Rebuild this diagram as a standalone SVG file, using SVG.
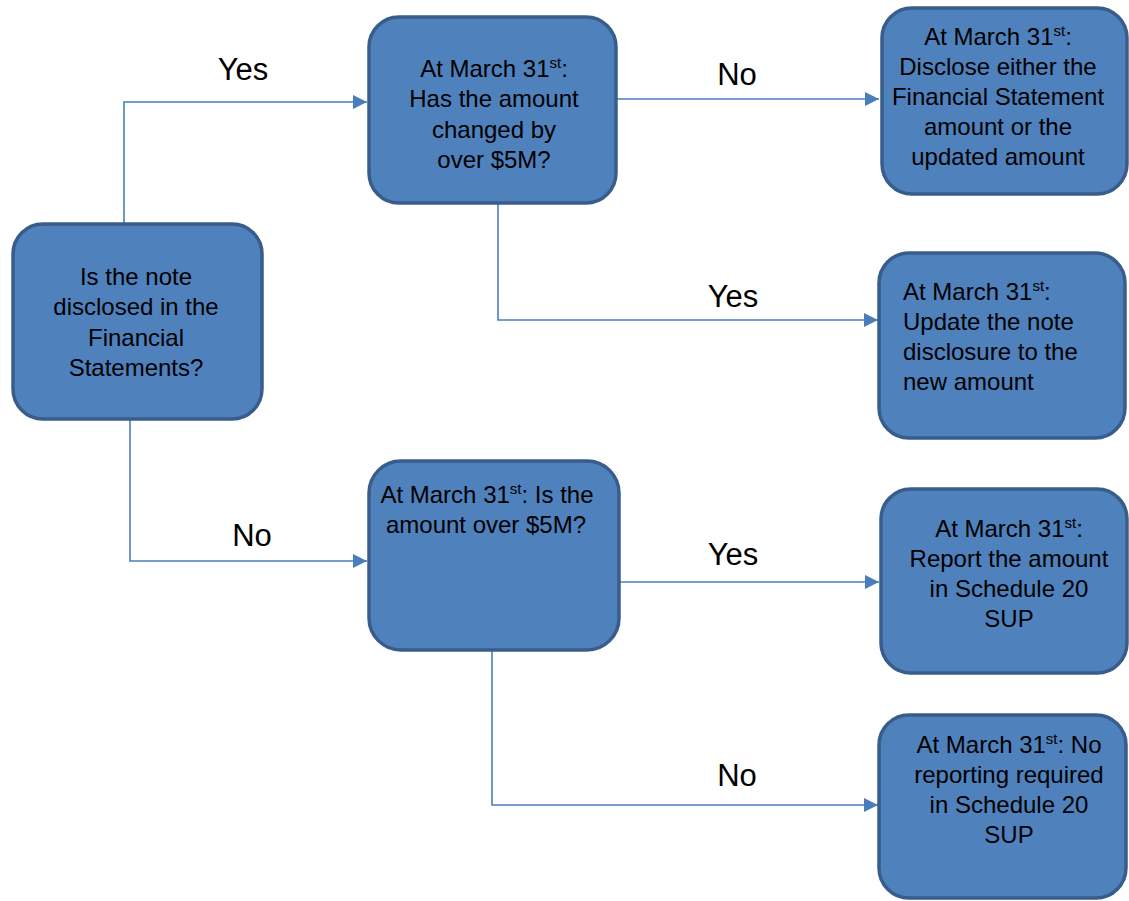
<svg xmlns="http://www.w3.org/2000/svg" width="1129" height="901" viewBox="0 0 1129 901">
<defs>
<style>
.box{fill:#4f81bd;stroke:#385d8a;stroke-width:3.5}
.t{font-family:"Liberation Sans",Arial,sans-serif;font-size:24px;fill:#000}
.c{text-anchor:middle}
.lbl{font-family:"Liberation Sans",Arial,sans-serif;font-size:31px;fill:#000;text-anchor:middle}
.con{fill:none;stroke:#4a7ebb;stroke-width:1.6}
.sup{font-size:15px}
</style>
<marker id="arr" viewBox="0 0 10 10" refX="10" refY="5" markerWidth="14" markerHeight="14" markerUnits="userSpaceOnUse" orient="auto">
<path d="M0,0 L10,5 L0,10 z" fill="#4a7ebb"/>
</marker>
</defs>
<rect width="1129" height="901" fill="#ffffff"/>
<g id="connectors">
<path class="con" d="M124,223 V102 H367" marker-end="url(#arr)"/>
<path class="con" d="M130,420 V561 H367" marker-end="url(#arr)"/>
<path class="con" d="M617,99 H879" marker-end="url(#arr)"/>
<path class="con" d="M498,203 V320 H878" marker-end="url(#arr)"/>
<path class="con" d="M620,582 H879" marker-end="url(#arr)"/>
<path class="con" d="M492,650 V805 H878" marker-end="url(#arr)"/>
</g>
<g id="labels">
<text class="lbl" x="243" y="80">Yes</text>
<text class="lbl" x="737" y="85">No</text>
<text class="lbl" x="733" y="307">Yes</text>
<text class="lbl" x="252" y="546">No</text>
<text class="lbl" x="733" y="565">Yes</text>
<text class="lbl" x="737" y="786">No</text>
</g>
<g id="n1">
<rect class="box" x="13" y="224" width="249" height="195" rx="30"/>
<text class="t c" x="136" y="285">Is the note</text>
<text class="t c" x="136" y="315">disclosed in the</text>
<text class="t c" x="136" y="346">Financial</text>
<text class="t c" x="136" y="376">Statements?</text>
</g>
<g id="n2">
<rect class="box" x="369" y="17" width="247" height="186" rx="30"/>
<text class="t c" x="494" y="77">At March 31<tspan class="sup" dy="-9">st</tspan><tspan dy="9">:</tspan></text>
<text class="t c" x="494" y="107">Has the amount</text>
<text class="t c" x="494" y="138">changed by</text>
<text class="t c" x="494" y="168">over $5M?</text>
</g>
<g id="n3">
<rect class="box" x="882" y="8" width="245" height="186" rx="30"/>
<text class="t c" x="998" y="45">At March 31<tspan class="sup" dy="-9">st</tspan><tspan dy="9">:</tspan></text>
<text class="t c" x="998" y="75">Disclose either the</text>
<text class="t c" x="998" y="105">Financial Statement</text>
<text class="t c" x="998" y="135">amount or the</text>
<text class="t c" x="998" y="165">updated amount</text>
</g>
<g id="n4">
<rect class="box" x="879" y="253" width="246" height="185" rx="30"/>
<text class="t" x="903" y="300">At March 31<tspan class="sup" dy="-9">st</tspan><tspan dy="9">:</tspan></text>
<text class="t" x="903" y="330">Update the note</text>
<text class="t" x="903" y="360">disclosure to the</text>
<text class="t" x="903" y="390">new amount</text>
</g>
<g id="n5">
<rect class="box" x="369" y="461" width="250" height="189" rx="32"/>
<text class="t c" x="487" y="503">At March 31<tspan class="sup" dy="-9">st</tspan><tspan dy="9">: Is the</tspan></text>
<text class="t c" x="486" y="533">amount over $5M?</text>
</g>
<g id="n6">
<rect class="box" x="881" y="489" width="246" height="184" rx="30"/>
<text class="t c" x="1009" y="537">At March 31<tspan class="sup" dy="-9">st</tspan><tspan dy="9">:</tspan></text>
<text class="t c" x="1009" y="567">Report the amount</text>
<text class="t c" x="1009" y="597">in Schedule 20</text>
<text class="t c" x="1009" y="627">SUP</text>
</g>
<g id="n7">
<rect class="box" x="879" y="715" width="247" height="183" rx="30"/>
<text class="t c" x="1009" y="753">At March 31<tspan class="sup" dy="-9">st</tspan><tspan dy="9">: No</tspan></text>
<text class="t c" x="1009" y="783">reporting required</text>
<text class="t c" x="1009" y="813">in Schedule 20</text>
<text class="t c" x="1009" y="843">SUP</text>
</g>
</svg>
